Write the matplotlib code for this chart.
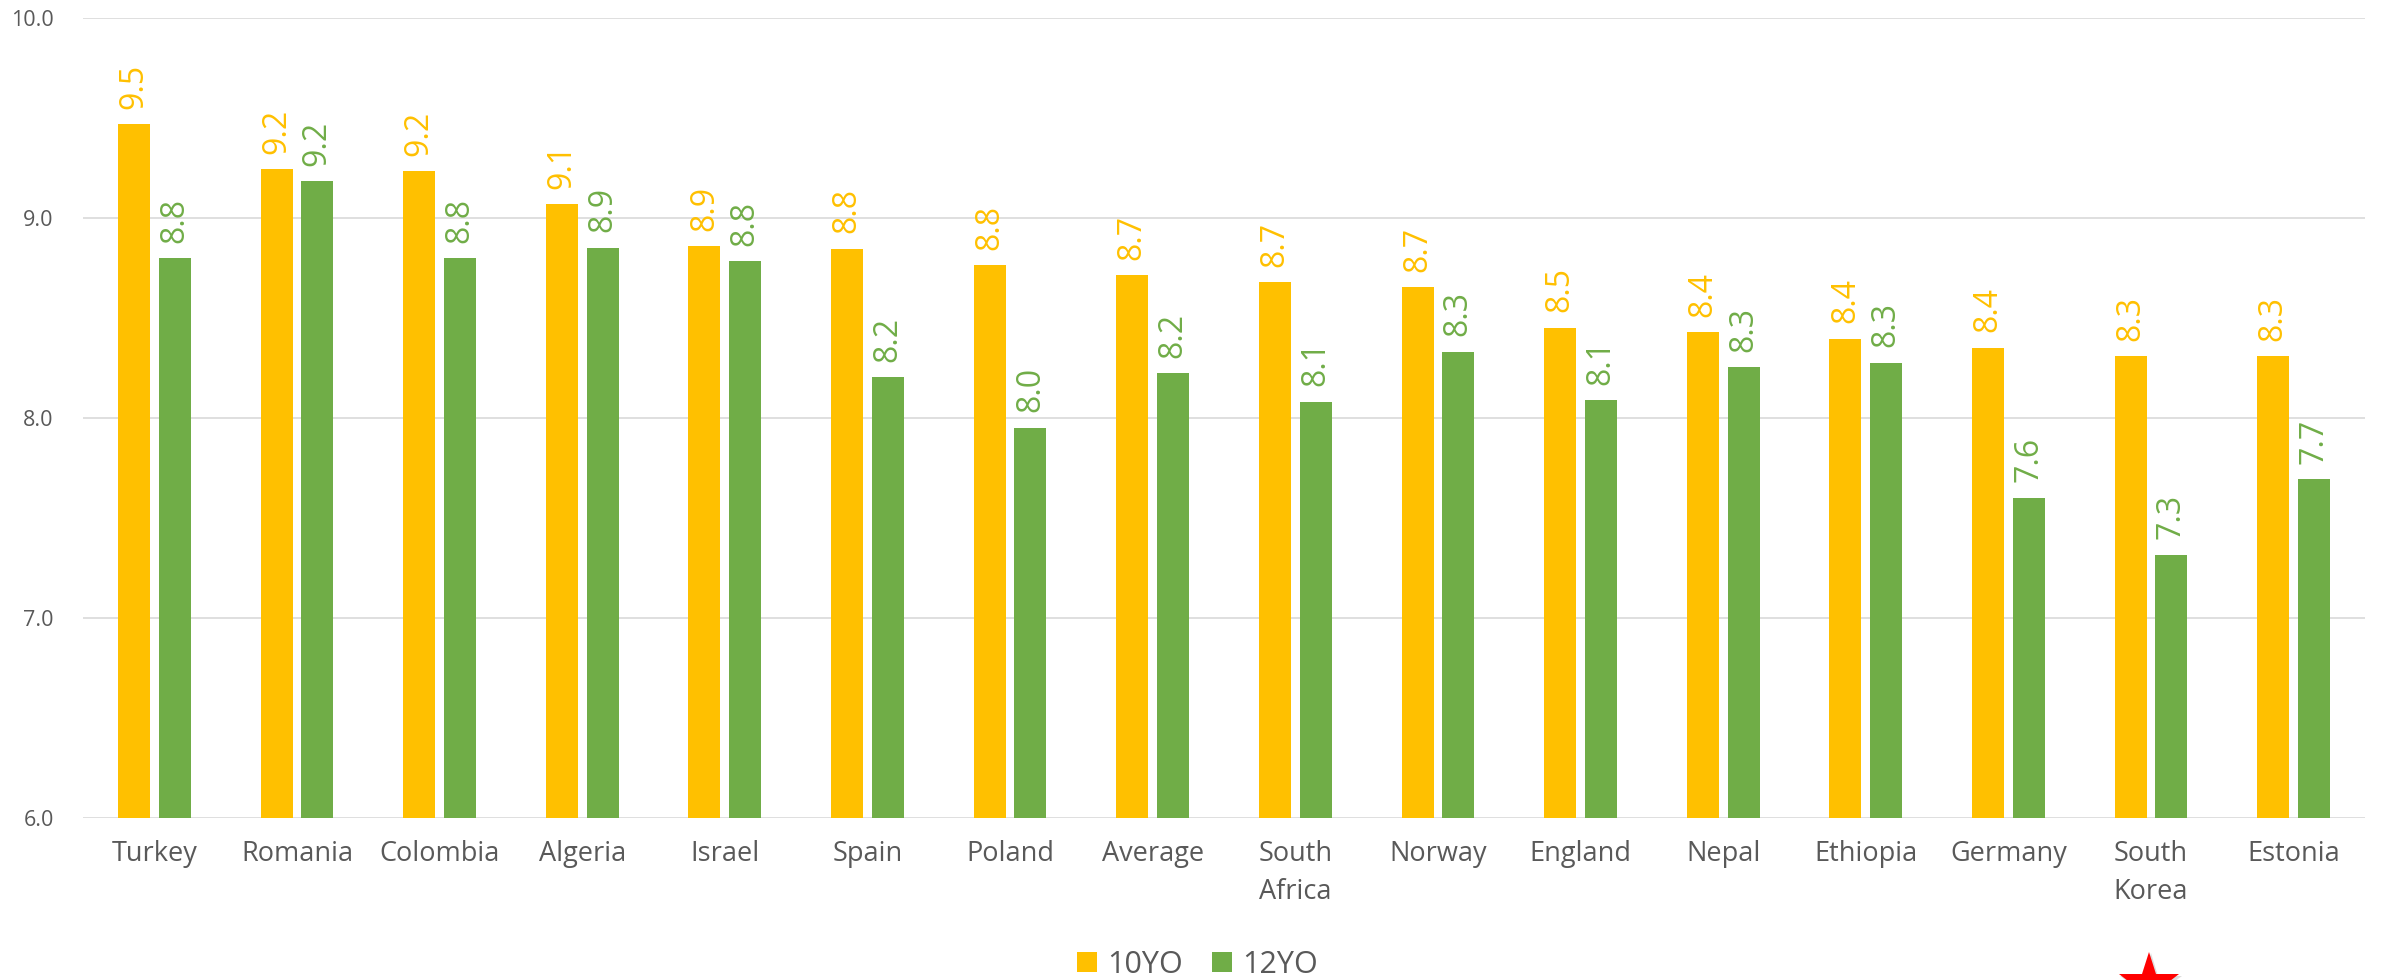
import matplotlib
matplotlib.use("Agg")
import matplotlib.pyplot as plt
from matplotlib.lines import Line2D
from matplotlib.patches import Patch
import numpy as np

plt.rcParams['font.family'] = ['Open Sans', 'DejaVu Sans']

countries = ["Turkey", "Romania", "Colombia", "Algeria", "Israel", "Spain",
             "Poland", "Average", "South\nAfrica", "Norway", "England",
             "Nepal", "Ethiopia", "Germany", "South\nKorea", "Estonia"]
yo10 = [9.47, 9.245, 9.235, 9.07, 8.86, 8.847, 8.763, 8.715, 8.68, 8.653,
        8.452, 8.428, 8.397, 8.352, 8.308, 8.308]
yo12 = [8.80, 9.185, 8.80, 8.852, 8.785, 8.205, 7.952, 8.223, 8.082, 8.332,
        8.09, 8.255, 8.277, 7.602, 7.317, 7.693]
series_names = ["10YO", "12YO"]
yticks = [6.0, 7.0, 8.0, 9.0, 10.0]

C10 = "#FFC000"
C12 = "#70AD47"
TXT = "#595959"
GRID = "#D9D9D9"

W, H, DPI = 2382, 980, 100
fig = plt.figure(figsize=(W / DPI, H / DPI), dpi=DPI)
ax = fig.add_axes([83 / W, 1 - 818 / H, (2365 - 83) / W, (818 - 18) / H])

x = np.arange(len(countries))
bw = 0.224
off = 0.143
b1 = ax.bar(x - off, yo10, width=bw, color=C10, zorder=3)
b2 = ax.bar(x + off, yo12, width=bw, color=C12, zorder=3)

for bars, vals, col in ((b1, yo10, C10), (b2, yo12, C12)):
    for rect, v in zip(bars, vals):
        ax.annotate(f"{v:.1f}", (rect.get_x() + rect.get_width() / 2, v),
                    xytext=(0, 11), textcoords="offset points",
                    rotation=90, ha="center", va="bottom",
                    fontsize=23, color=col, zorder=4)

ax.set_ylim(6, 10)
ax.set_xlim(-0.5, len(countries) - 0.5)
ax.set_yticks(yticks)
ax.set_yticklabels([f"{t:.1f}" for t in yticks])
ax.set_xticks(x)
ax.set_xticklabels(countries, linespacing=1.45)
ax.tick_params(axis="y", length=0, pad=21, labelsize=15.5, labelcolor=TXT)
ax.tick_params(axis="x", length=0, pad=16, labelsize=19.5, labelcolor=TXT)
ax.grid(axis="y", color=GRID, linewidth=1.2, zorder=0)
ax.set_axisbelow(True)
for s in ax.spines.values():
    s.set_visible(False)

handles = [Patch(facecolor=C10, edgecolor="none"),
           Patch(facecolor=C12, edgecolor="none")]
fig.legend(handles, series_names, loc="center", bbox_to_anchor=(0.5027, 0.0153),
           ncol=2, frameon=False, fontsize=22, labelcolor=TXT,
           handlelength=0.65, handleheight=0.65, handletextpad=0.33,
           columnspacing=0.95, borderpad=0, borderaxespad=0)

# red star marker under the South Korea label
sx, sy = 2149 / W, 1 - 984 / H
fig.add_artist(Line2D([sx + 1.5 / W], [sy - 2 / H], marker="*", markersize=47,
                      color="#BBBBBB", alpha=0.5, markeredgewidth=0,
                      transform=fig.transFigure, clip_on=False))
fig.add_artist(Line2D([sx], [sy], marker="*", markersize=46, color="#FF0000",
                      markeredgewidth=0, transform=fig.transFigure, clip_on=False))

fig.savefig("out.png", dpi=DPI, facecolor="white")
